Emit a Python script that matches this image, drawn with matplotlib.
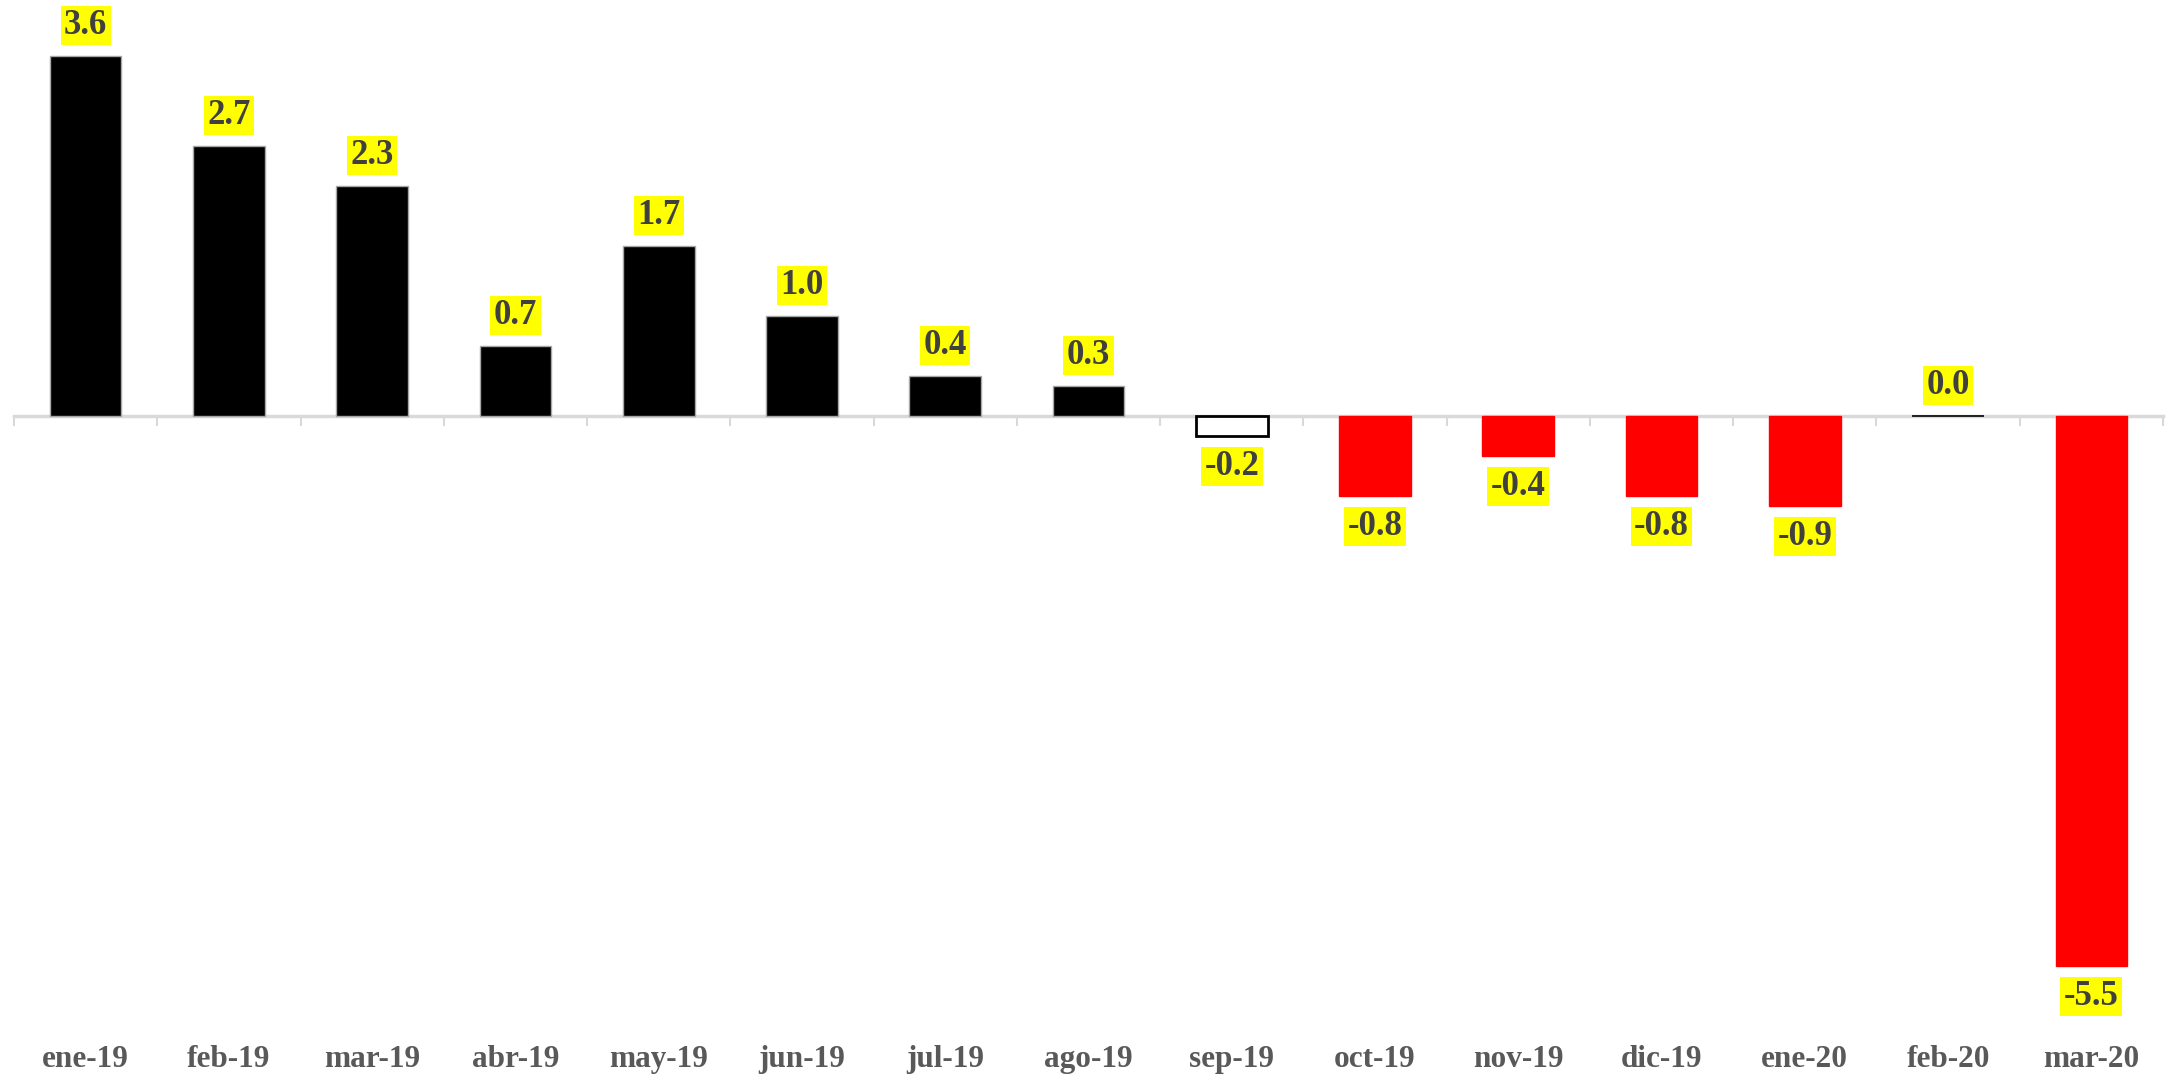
import matplotlib
matplotlib.use("Agg")
import matplotlib.pyplot as plt
import numpy as np

categories = ["ene-19", "feb-19", "mar-19", "abr-19", "may-19", "jun-19", "jul-19",
              "ago-19", "sep-19", "oct-19", "nov-19", "dic-19", "ene-20", "feb-20", "mar-20"]
values = [3.6, 2.7, 2.3, 0.7, 1.7, 1.0, 0.4, 0.3, -0.2, -0.8, -0.4, -0.8, -0.9, 0.0, -5.5]
face_colors = ["black"] * 8 + ["white", "red", "red", "red", "red", "black", "red"]
edge_colors = ["#A6A6A6"] * 8 + ["black", "red", "red", "red", "red", "black", "red"]

plt.rcParams['font.family'] = ['Liberation Serif', 'DejaVu Serif']

fig = plt.figure(figsize=(21.77, 10.76), dpi=100)
ax = fig.add_axes([14 / 2177, 60 / 1076, 2149 / 2177, 1000 / 1076])

x = np.arange(len(categories))
for xi, v, fc, ec in zip(x, values, face_colors, edge_colors):
    lw = 2.0 if fc == "white" else (1.2 if v == 0 else 1.0)
    ax.bar(xi, v, width=0.5, color=fc, edgecolor=ec, linewidth=lw, zorder=3)

ax.set_xlim(-0.5, len(categories) - 0.5)
ax.set_ylim(-6.0, 4.0)

for xi, v in zip(x, values):
    off = 0.14
    if v >= 0:
        y = v + off
        va = "bottom"
    else:
        y = v - off
        va = "top"
    ax.text(xi, y, f"{v:.1f}", ha="center", va=va, fontsize=25, fontweight="bold",
            color="#404040", zorder=5,
            bbox=dict(boxstyle="square,pad=0.1", facecolor="#FFFF00", edgecolor="none"))

# zero axis with boundary ticks
for s in ["top", "right", "left"]:
    ax.spines[s].set_visible(False)
ax.spines["bottom"].set_position(("data", 0))
ax.spines["bottom"].set_color("#D9D9D9")
ax.spines["bottom"].set_linewidth(2.5)
ax.spines["bottom"].set_zorder(2)
ax.set_yticks([])
ax.set_xticks(np.arange(-0.5, len(categories), 1.0))
ax.set_xticklabels([])
ax.tick_params(axis="x", direction="out", length=7, width=1.5, color="#D9D9D9")

sec = ax.secondary_xaxis("bottom")
sec.set_xticks(x)
sec.set_xticklabels(categories, fontsize=22.5, fontweight="bold", color="#595959")
sec.tick_params(length=0, pad=21)
sec.spines["bottom"].set_visible(False)

fig.savefig("out.png", dpi=100, facecolor="white")
